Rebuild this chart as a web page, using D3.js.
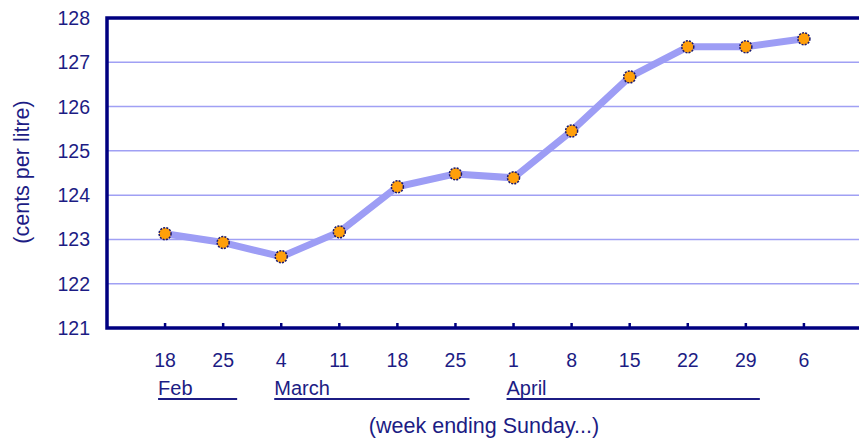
<!DOCTYPE html>
<html>
<head>
<meta charset="utf-8">
<script src="https://cdn.jsdelivr.net/npm/d3@7"></script>
<style>
  body { margin: 0; background: #fff; }
  text { font-family: "Liberation Sans", Arial, sans-serif; fill: #1c1c84; }
</style>
</head>
<body>
<svg width="859" height="440"></svg>
<script>
var weeks = ["18", "25", "4", "11", "18", "25", "1", "8", "15", "22", "29", "6"];
var prices = [123.13, 122.93, 122.61, 123.17, 124.19, 124.48, 124.39, 125.45, 126.67, 127.35, 127.35, 127.53];
var yTicks = [121, 122, 123, 124, 125, 126, 127, 128];
// month label spans by week index (first, last)
var months = [
  {name: "Feb", from: 0, to: 1},
  {name: "March", from: 2, to: 5},
  {name: "April", from: 6, to: 10}
];

var svg = d3.select("svg");
var navy = "#000080", ink = "#1c1c84";
var plotL = 107, plotT = 18, plotB = 328, plotR = 862;

// slot -1 is the left edge, slot 12 the (clipped) right edge
var x = d3.scaleLinear().domain([-1, weeks.length]).range([plotL, plotR]);
var y = d3.scaleLinear().domain([121, 128]).range([plotB, plotT]);

// gridlines
svg.append("g").selectAll("line").data(yTicks.slice(1, -1)).enter().append("line")
  .attr("x1", plotL).attr("x2", 859)
  .attr("y1", function(d){ return y(d); }).attr("y2", function(d){ return y(d); })
  .attr("stroke", "#a0a0f4").attr("stroke-width", 1.5);

// y tick labels
svg.append("g").selectAll("text").data(yTicks).enter().append("text")
  .attr("x", 90).attr("y", function(d){ return y(d) + 7; })
  .attr("text-anchor", "end").attr("font-size", 19.5)
  .text(function(d){ return d; });

// line
var line = d3.line()
  .x(function(d, i){ return x(i); })
  .y(function(d){ return y(d); });
svg.append("path").datum(prices)
  .attr("d", line).attr("fill", "none")
  .attr("stroke", "#9d9df5").attr("stroke-width", 7).attr("stroke-linejoin", "round");

// frame (left, top, bottom)
svg.append("path")
  .attr("d", "M859," + plotT + "H" + plotL + "V" + plotB + "H859")
  .attr("fill", "none").attr("stroke", navy).attr("stroke-width", 3.5);

// bottom ticks
svg.append("g").selectAll("line").data(weeks).enter().append("line")
  .attr("x1", function(d, i){ return x(i); }).attr("x2", function(d, i){ return x(i); })
  .attr("y1", plotB).attr("y2", plotB - 5)
  .attr("stroke", navy).attr("stroke-width", 2.5);

// markers
svg.append("g").selectAll("circle").data(prices).enter().append("circle")
  .attr("cx", function(d, i){ return x(i); }).attr("cy", function(d){ return y(d); })
  .attr("r", 6).attr("fill", "#ff9f0a")
  .attr("stroke", "#1a1a70").attr("stroke-width", 1.5).attr("stroke-dasharray", "2,1.2");

// x tick labels
svg.append("g").selectAll("text").data(weeks).enter().append("text")
  .attr("x", function(d, i){ return x(i); }).attr("y", 367)
  .attr("text-anchor", "middle").attr("font-size", 19.5)
  .text(function(d){ return d; });

// month labels with underline
var mg = svg.append("g").selectAll("g").data(months).enter().append("g");
mg.append("text")
  .attr("x", function(d){ return x(d.from) - 7; }).attr("y", 395)
  .attr("font-size", 20)
  .text(function(d){ return d.name; });
mg.append("line")
  .attr("x1", function(d){ return x(d.from) - 7; })
  .attr("x2", function(d){ return x(d.to) + 14; })
  .attr("y1", 399).attr("y2", 399)
  .attr("stroke", ink).attr("stroke-width", 2);

// axis titles
svg.append("text")
  .attr("transform", "translate(29,172) rotate(-90)")
  .attr("text-anchor", "middle").attr("font-size", 21.5)
  .text("(cents per litre)");
svg.append("text")
  .attr("x", 484).attr("y", 433)
  .attr("text-anchor", "middle").attr("font-size", 21.5)
  .text("(week ending Sunday...)");
</script>
</body>
</html>
